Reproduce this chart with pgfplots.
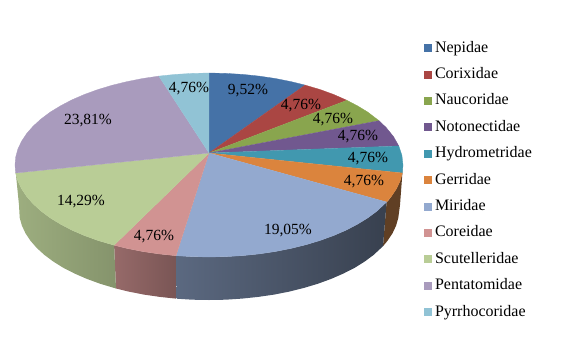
\documentclass[border=0pt]{standalone}
\usepackage{fontspec}
\setmainfont{Liberation Serif}
\usepackage{pgfplots}
\pgfplotsset{compat=1.18}
\definecolor{c1}{HTML}{4572A7}
\definecolor{c2}{HTML}{AA4643}
\definecolor{c3}{HTML}{89A54E}
\definecolor{c4}{HTML}{71588F}
\definecolor{c5}{HTML}{4198AF}
\definecolor{c6}{HTML}{DB843D}
\definecolor{c7}{HTML}{93A9CF}
\definecolor{c8}{HTML}{D19392}
\definecolor{c9}{HTML}{B9CD96}
\definecolor{c10}{HTML}{A99BBD}
\definecolor{c11}{HTML}{91C3D5}
\pgfplotsset{slice/.style={fill=#1,draw=#1,line width=0.3pt,no markers}}
\newcommand{\lab}[3]{\node[font=\fontsize{15.5}{18}\selectfont,inner sep=0pt] at (axis cs:#1,#2) {#3};}
\begin{document}
\begin{tikzpicture}
\useasboundingbox (0,0) rectangle (567pt,351pt);
\begin{axis}[
  anchor=south west, at={(0,0)},
  scale only axis, width=567pt, height=351pt,
  xmin=0, xmax=567, ymin=0, ymax=351, y dir=reverse,
  hide axis, clip=false,
  legend cell align=left,
  legend image code/.code={\fill[#1,draw=none] (0pt,-4pt) rectangle (8pt,4pt);},
  legend style={at={(axis cs:424,41)}, anchor=north west, draw=none, fill=none, inner sep=0pt, outer sep=0pt,
    font=\fontsize{16}{18}\selectfont,
    nodes={inner sep=0pt, text height=11pt, text depth=3.4pt},
    row sep=12pt, column sep=3pt},
]
% side walls
\addplot[forget plot,no markers,draw=none,fill=c6!40!black!95] coordinates {
(403,165)(402.3,173)(400.1,181)(396.4,188.8)(391.3,196.5)(388,201)(386.6,202)
(383,246.2)(387.5,240.8)(392.5,233.3)(396.1,225.6)(398.3,217.8)(400,205)};
\addplot[forget plot,no markers,draw=none,left color=c7!62!black,middle color=c7!45!black,right color=c7!38!black] coordinates {
(386.6,202)(377,211)(367.9,217.8)(357.6,224.1)(346.2,230.1)(333.7,235.5)(320.3,240.4)(306,244.7)(291,248.4)(275.3,251.5)(259.2,253.9)(242.7,255.6)(225.9,256.6)(209,257)(192.1,256.6)(176,255.7)
(176.7,298.7)(192.4,299.7)(209,300)(225.6,299.7)(242,298.6)(258.2,296.9)(274,294.6)(289.3,291.6)(304,287.9)(318,283.7)(331.1,278.9)(343.3,273.6)(354.5,267.9)(364.6,261.6)(373.5,255)(383,246.2)};
\addplot[forget plot,no markers,draw=none,left color=c8!72!black,right color=c8!58!black] coordinates {
(176,255.7)(158.8,253.9)(142.7,251.5)(127,248.4)(114.1,245.2)
(116,288.5)(128.7,291.6)(144,294.6)(159.8,296.9)(176.7,298.7)};
\addplot[forget plot,no markers,draw=none,left color=c9!85!black,right color=c9!72!black] coordinates {
(114.1,245.2)(97.7,240.4)(84.3,235.5)(71.8,230.1)(60.4,224.1)(50.1,217.8)(41,211)(33.2,203.9)(26.7,196.5)(21.6,188.8)(17.9,181)(15.7,173)(15,165)
(19,205)(19.7,217.8)(21.9,225.6)(25.5,233.3)(30.5,240.8)(36.8,248)(44.5,255)(53.4,261.6)(63.5,267.9)(74.7,273.6)(86.9,278.9)(100,283.7)(116,288.5)};
% top face
\addplot[slice=c1] coordinates {(209,153)(209,73)(225.9,73.4)(242.7,74.4)(259.2,76.1)(275.3,78.5)(291,81.6)(305.1,85.1)};
\addlegendentry{Nepidae}
\addplot[slice=c2] coordinates {(209,153)(305.1,85.1)(320.3,89.6)(333.7,94.5)(346.9,100.3)};
\addlegendentry{Corixidae}
\addplot[slice=c3] coordinates {(209,153)(346.9,100.3)(357.6,105.9)(367.9,112.2)(379,120.7)};
\addlegendentry{Naucoridae}
\addplot[slice=c4] coordinates {(209,153)(379,120.7)(386.2,127.6)(393.5,136.6)(398.8,146)};
\addlegendentry{Notonectidae}
\addplot[slice=c5] coordinates {(209,153)(398.8,146)(401.9,155.4)(403,165)(402.3,173)};
\addlegendentry{Hydrometridae}
\addplot[slice=c6] coordinates {(209,153)(402.3,173)(400.1,181)(396.4,188.8)(391.3,196.5)(386.6,202)};
\addlegendentry{Gerridae}
\addplot[slice=c7] coordinates {(209,153)(386.6,202)(377,211)(367.9,217.8)(357.6,224.1)(346.2,230.1)(333.7,235.5)(320.3,240.4)(306,244.7)(291,248.4)(275.3,251.5)(259.2,253.9)(242.7,255.6)(225.9,256.6)(209,257)(192.1,256.6)(176,255.7)};
\addlegendentry{Miridae}
\addplot[slice=c8] coordinates {(209,153)(176,255.7)(158.8,253.9)(142.7,251.5)(127,248.4)(114.1,245.2)};
\addlegendentry{Coreidae}
\addplot[slice=c9] coordinates {(209,153)(114.1,245.2)(97.7,240.4)(84.3,235.5)(71.8,230.1)(60.4,224.1)(50.1,217.8)(41,211)(33.2,203.9)(26.7,196.5)(21.6,188.8)(17.9,181)(15.7,173)};
\addlegendentry{Scutelleridae}
\addplot[slice=c10] coordinates {(209,153)(15.7,173)(15,165)(15.7,157)(17.9,149)(21.6,141.2)(26.7,133.5)(33.2,126.1)(41,119)(50.1,112.2)(60.4,105.9)(71.8,99.9)(84.3,94.5)(97.7,89.6)(112,85.3)(127,81.6)(142.7,78.5)(158.8,76.1)};
\addlegendentry{Pentatomidae}
\addplot[slice=c11] coordinates {(209,153)(158.8,76.1)(175.3,74.4)(192.1,73.4)(209,73)};
\addlegendentry{Pyrrhocoridae}
\lab{248}{91}{9,52\%}
\lab{301}{106}{4,76\%}
\lab{333}{120}{4,76\%}
\lab{358}{137}{4,76\%}
\lab{368}{159}{4,76\%}
\lab{364}{182}{4,76\%}
\lab{288}{231}{19,05\%}
\lab{154}{237}{4,76\%}
\lab{81}{202}{14,29\%}
\lab{88}{121}{23,81\%}
\lab{189}{89}{4,76\%}
\end{axis}
\end{tikzpicture}
\end{document}
